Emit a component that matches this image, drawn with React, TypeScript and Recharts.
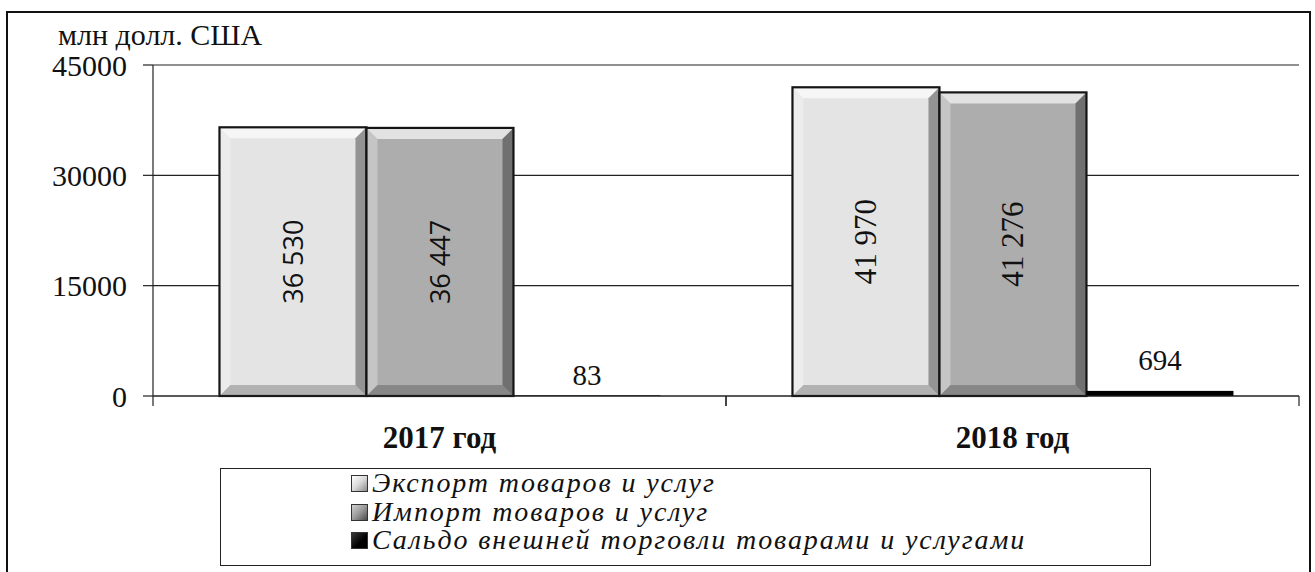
import * as React from "react"
import { BarChart, Bar, XAxis, YAxis, CartesianGrid, LabelList } from "recharts"

const years = ["2017 год", "2018 год"]
const exportValues = [36530, 41970]
const importValues = [36447, 41276]
const balanceValues = [83, 694]
const seriesNames = [
  "Экспорт товаров и услуг",
  "Импорт товаров и услуг",
  "Сальдо внешней торговли товарами и услугами",
]
const yTicks = [0, 15000, 30000, 45000]

const data = years.map((year, i) => ({
  year,
  exportValue: exportValues[i],
  importValue: importValues[i],
  balance: balanceValues[i],
}))

const SERIF = "Liberation Serif, serif"
const SANS = "Open Sans, sans-serif"

const seriesColors = ["#e4e4e4", "#adadad", "#000000"]
// the small balance labels were nudged by hand in the original
const topLabelGap = [20, 31]

const fmt = (v: number) => {
  const s = String(Math.round(v))
  return s.replace(/\B(?=(\d{3})+(?!\d))/g, " ")
}

// bar with a bevelled edge, like the office "relief" effect
const BevelBar = (props: any) => {
  const { x, y, width, height, fill } = props
  if (!height || height <= 0) return null
  const w = width
  const h = height
  if (h < 8) return <rect x={x} y={y} width={w} height={h} fill={fill} />
  const b = Math.min(11, w / 4, h / 4)
  return (
    <g>
      <rect x={x} y={y} width={w} height={h} fill={fill} />
      <polygon
        points={`${x},${y} ${x + w},${y} ${x + w - b},${y + b} ${x + b},${y + b}`}
        fill="#ffffff"
        fillOpacity={0.65}
      />
      <polygon
        points={`${x},${y} ${x + b},${y + b} ${x + b},${y + h - b} ${x},${y + h}`}
        fill="#ffffff"
        fillOpacity={0.3}
      />
      <polygon
        points={`${x + w},${y} ${x + w},${y + h} ${x + w - b},${y + h - b} ${x + w - b},${y + b}`}
        fill="#000000"
        fillOpacity={0.35}
      />
      <polygon
        points={`${x},${y + h} ${x + w},${y + h} ${x + w - b},${y + h - b} ${x + b},${y + h - b}`}
        fill="#000000"
        fillOpacity={0.22}
      />
      <rect x={x} y={y} width={w} height={h} fill="none" stroke="#151515" strokeWidth={2.2} />
    </g>
  )
}

const InsideLabel = (props: any) => {
  const { x, y, width, height, value, index } = props
  const cx = x + width / 2
  const cy = y + height / 2
  return (
    <text
      x={cx}
      y={cy}
      transform={`rotate(-90 ${cx} ${cy})`}
      textAnchor="middle"
      dominantBaseline="central"
      fontFamily={index === 0 ? SANS : SERIF}
      fontSize={index === 0 ? 27 : 31}
      fill="#111"
    >
      {fmt(value)}
    </text>
  )
}

const TopLabel = (props: any) => {
  const { x, y, width, value, index } = props
  return (
    <text
      x={x + width / 2}
      y={y - topLabelGap[index]}
      textAnchor="middle"
      dominantBaseline="central"
      fontFamily={SERIF}
      fontSize={29}
      fill="#111"
    >
      {fmt(value)}
    </text>
  )
}

const CategoryTick = (props: any) => {
  const { x, y, payload } = props
  const half = payload && payload.offset ? payload.offset : 0
  return (
    <g>
      {half > 0 && (
        <>
          <line x1={x - half} y1={y} x2={x - half} y2={y + 10} stroke="#222" strokeWidth={1.2} />
          <line x1={x + half} y1={y} x2={x + half} y2={y + 10} stroke="#222" strokeWidth={1.2} />
        </>
      )}
      <text
        x={x}
        y={y + 41}
        textAnchor="middle"
        dominantBaseline="central"
        fontFamily={SERIF}
        fontWeight="bold"
        fontSize={31}
        fill="#111"
      >
        {payload.value}
      </text>
    </g>
  )
}

const legendSwatch = [
  "linear-gradient(135deg, #ffffff 0%, #d8d8d8 50%, #8a8a8a 100%)",
  "linear-gradient(135deg, #d0d0d0 0%, #9a9a9a 50%, #4a4a4a 100%)",
  "linear-gradient(135deg, #3a3a3a 0%, #000000 60%, #000000 100%)",
]

export default function App() {
  return (
    <div
      style={{
        position: "fixed",
        left: 0,
        top: 0,
        width: 1315,
        height: 572,
        overflow: "hidden",
        background: "#fff",
      }}
    >
      <div
        style={{
          position: "absolute",
          left: 6,
          top: 11,
          width: 1305,
          height: 620,
          border: "2px solid #111",
          boxSizing: "border-box",
        }}
      />
      <div
        style={{
          position: "absolute",
          left: 58,
          top: 25,
          fontFamily: SERIF,
          fontSize: 30,
          lineHeight: "20px",
          color: "#111",
          whiteSpace: "nowrap",
        }}
      >
        млн долл. США
      </div>
      <div style={{ position: "absolute", left: 0, top: 0 }}>
        <BarChart
          width={1315}
          height={572}
          data={data}
          margin={{ top: 65, right: 16, bottom: 146, left: 0 }}
          barCategoryGap="11.6%"
          barGap={0}
        >
          <CartesianGrid vertical={false} stroke="#222" strokeWidth={1.2} />
          <YAxis
            width={153}
            domain={[0, 45000]}
            ticks={yTicks}
            interval={0}
            axisLine={{ stroke: "#222", strokeWidth: 1.2 }}
            tickLine={{ stroke: "#222", strokeWidth: 1.2 }}
            tickSize={10}
            tickMargin={16}
            tick={{ fontFamily: SERIF, fontSize: 30, fill: "#111" }}
          />
          <XAxis
            dataKey="year"
            height={30}
            axisLine={{ stroke: "#222", strokeWidth: 1.2 }}
            tickLine={false}
            tickSize={0}
            tickMargin={0}
            interval={0}
            tick={<CategoryTick />}
          />
          <Bar
            dataKey="exportValue"
            name={seriesNames[0]}
            fill={seriesColors[0]}
            shape={<BevelBar />}
            isAnimationActive={false}
          >
            <LabelList dataKey="exportValue" content={<InsideLabel />} />
          </Bar>
          <Bar
            dataKey="importValue"
            name={seriesNames[1]}
            fill={seriesColors[1]}
            shape={<BevelBar />}
            isAnimationActive={false}
          >
            <LabelList dataKey="importValue" content={<InsideLabel />} />
          </Bar>
          <Bar
            dataKey="balance"
            name={seriesNames[2]}
            fill={seriesColors[2]}
            shape={<BevelBar />}
            isAnimationActive={false}
          >
            <LabelList dataKey="balance" content={<TopLabel />} />
          </Bar>
        </BarChart>
      </div>
      <div
        style={{
          position: "absolute",
          left: 220,
          top: 468,
          width: 931,
          height: 98,
          border: "1.5px solid #222",
          boxSizing: "border-box",
          paddingLeft: 130,
          paddingTop: 0,
          fontFamily: SERIF,
          fontStyle: "italic",
          fontSize: 28,
          letterSpacing: 1.9,
          color: "#111",
        }}
      >
        {seriesNames.map((name, i) => (
          <div key={name} style={{ height: 28.5, lineHeight: "28.5px", whiteSpace: "nowrap" }}>
            <span
              style={{
                display: "inline-block",
                width: 15,
                height: 15,
                marginRight: 4,
                border: "1px solid #333",
                background: legendSwatch[i],
                verticalAlign: "middle",
                position: "relative",
                top: -2,
              }}
            />
            {name}
          </div>
        ))}
      </div>
    </div>
  )
}
